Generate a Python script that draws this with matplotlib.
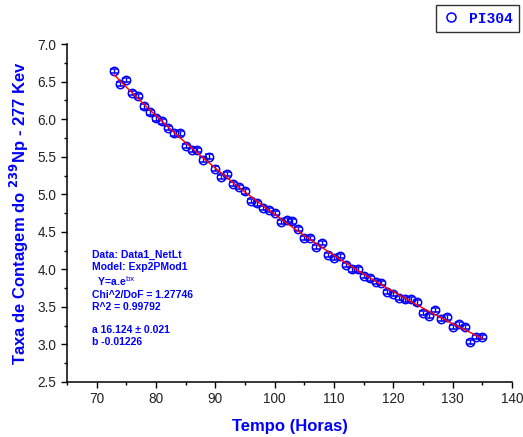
import numpy as np
import matplotlib
matplotlib.use("Agg")
import matplotlib.pyplot as plt
from matplotlib.ticker import MultipleLocator
from matplotlib.lines import Line2D

# Data
tempo = [73, 74, 75, 76, 77, 78, 79, 80, 81, 82, 83, 84, 85, 86, 87, 88, 89, 90,
         91, 92, 93, 94, 95, 96, 97, 98, 99, 100, 101, 102, 103, 104, 105, 106,
         107, 108, 109, 110, 111, 112, 113, 114, 115, 116, 117, 118, 119, 120,
         121, 122, 123, 124, 125, 126, 127, 128, 129, 130, 131, 132, 133, 134, 135]
taxa = [6.64, 6.47, 6.52, 6.35, 6.31, 6.17, 6.09, 6.01, 5.97, 5.88, 5.81, 5.81,
        5.64, 5.59, 5.59, 5.46, 5.50, 5.34, 5.23, 5.27, 5.14, 5.10, 5.04, 4.91,
        4.88, 4.82, 4.79, 4.75, 4.63, 4.66, 4.64, 4.54, 4.42, 4.42, 4.30, 4.35,
        4.19, 4.15, 4.18, 4.06, 4.00, 4.00, 3.91, 3.88, 3.83, 3.82, 3.70, 3.67,
        3.62, 3.60, 3.60, 3.56, 3.42, 3.38, 3.46, 3.34, 3.36, 3.23, 3.27, 3.23,
        3.03, 3.10, 3.10]
erro = [0.03] * len(tempo)

fit_a = 16.124
fit_b = -0.01226

x_ticks = [70, 80, 90, 100, 110, 120, 130, 140]
y_ticks = [2.5, 3.0, 3.5, 4.0, 4.5, 5.0, 5.5, 6.0, 6.5, 7.0]

blue = "#0000FF"
plt.rcParams['font.family'] = ['Liberation Sans', 'DejaVu Sans']

fig = plt.figure(figsize=(5.23, 4.37), dpi=100)
ax = fig.add_axes([0.128, 0.126, 0.851, 0.773])

ax.errorbar(tempo, taxa, yerr=erro, fmt='o', ms=6, mfc='none', mec=blue,
            mew=1.1, ecolor=blue, elinewidth=1.0, capsize=3, capthick=1.0,
            zorder=3)
xf = np.linspace(min(tempo), max(tempo), 200)
ax.plot(xf, fit_a * np.exp(fit_b * xf), color='red', lw=1.0, zorder=4)

ax.set_xlim(65, 140)
ax.set_ylim(2.5, 7.0)
ax.set_xticks(x_ticks)
ax.set_yticks(y_ticks)
ax.set_yticklabels([f"{v:.1f}" for v in y_ticks])
ax.xaxis.set_minor_locator(MultipleLocator(5))
ax.yaxis.set_minor_locator(MultipleLocator(0.25))
ax.tick_params(which='major', direction='out', length=4, width=1,
               labelsize=9.8, labelcolor='#222222')
ax.tick_params(which='minor', direction='out', length=2.5, width=1)
for s in ['top', 'right']:
    ax.spines[s].set_visible(False)
for s in ['left', 'bottom']:
    ax.spines[s].set_linewidth(1.1)

ax.set_xlabel("Tempo (Horas)", color=blue, fontsize=12, fontweight='bold',
              labelpad=9)
ax.set_ylabel(r"Taxa de Contagem do $\mathbf{^{239}}$Np - 277 Kev",
              color=blue, fontsize=12, fontweight='bold', labelpad=5)

txt = ("Data: Data1_NetLt\n"
       "Model: Exp2PMod1\n"
       "  Y=a.e$^{\\mathrm{bx}}$\n"
       "Chi^2/DoF = 1.27746\n"
       "R^2 = 0.99792\n"
       "\n"
       "a 16.124 \u00b1 0.021\n"
       "b -0.01226")
fig.text(92 / 523, 1 - 250 / 437, txt, color=blue, fontsize=7.5,
         fontweight='bold', va='top', ha='left', linespacing=1.22)

# Legend box outside axes (top right)
leg_handle = Line2D([], [], marker='o', ls='none', ms=6.5, mfc='none', mec=blue,
                    mew=1.1)
leg = fig.legend([leg_handle], ["PI304"], loc='upper right',
                 bbox_to_anchor=(519 / 523, 1 - 5 / 437), borderaxespad=0,
                 frameon=True, fancybox=False, edgecolor='black',
                 handlelength=1.2, handletextpad=0.6, borderpad=0.45,
                 prop={'family': 'Liberation Mono', 'weight': 'bold', 'size': 10.5})
leg.get_frame().set_linewidth(1.0)
for t in leg.get_texts():
    t.set_color(blue)

fig.savefig("out.png", dpi=100)
